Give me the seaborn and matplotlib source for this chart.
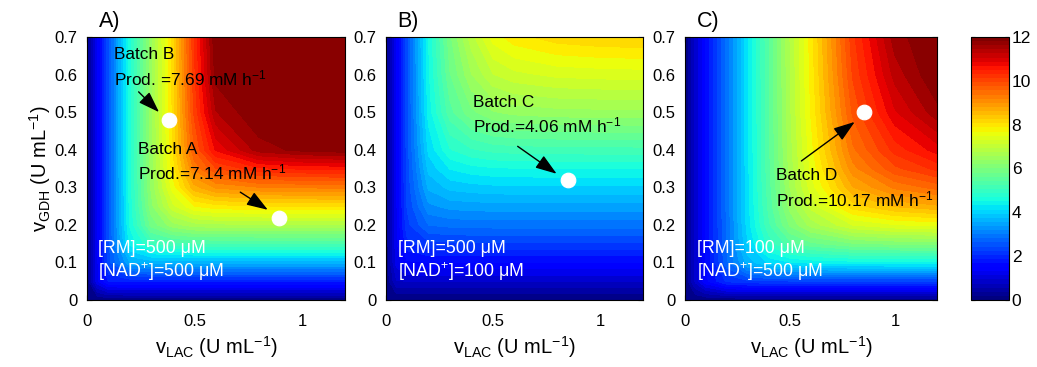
import numpy as np
import matplotlib
matplotlib.use("Agg")
import matplotlib.pyplot as plt
from matplotlib.cm import ScalarMappable
from matplotlib.colors import Normalize
import seaborn as sns

# ---------------- data ----------------
x_nodes = [0, 0.05, 0.1, 0.2, 0.3, 0.4, 0.5, 0.6, 0.8, 1.0, 1.2]          # v_LAC
y_nodes = [0, 0.05, 0.1, 0.15, 0.2, 0.25, 0.3, 0.35, 0.4, 0.5, 0.6, 0.7]  # v_GDH

prod_A = [
    [0, 0, 0, 0, 0, 0, 0, 0, 0, 0, 0],
    [0, 1.18, 1.75, 1.8, 1.8, 1.8, 1.8, 1.8, 1.8, 1.8, 1.8],
    [0, 1.2, 2.37, 3.48, 3.58, 3.6, 3.6, 3.6, 3.6, 3.6, 3.6],
    [0, 1.2, 2.4, 4.31, 4.99, 5.14, 5.19, 5.2, 5.2, 5.2, 5.2],
    [0, 1.2, 2.4, 4.52, 5.83, 6.40, 6.62, 6.67, 6.7, 6.7, 6.7],
    [0, 1.2, 2.4, 4.57, 6.16, 7.17, 7.74, 7.90, 7.97, 8.0, 8.0],
    [0, 1.2, 2.4, 4.59, 6.29, 7.62, 8.65, 9.03, 9.23, 9.27, 9.3],
    [0, 1.2, 2.4, 4.6, 6.35, 7.86, 9.30, 9.97, 10.43, 10.53, 10.57],
    [0, 1.2, 2.4, 4.6, 6.37, 7.98, 9.74, 10.78, 11.62, 11.83, 11.91],
    [0, 1.2, 2.4, 4.6, 6.4, 8.05, 10.05, 11.48, 13.0, 13.5, 13.75],
    [0, 1.2, 2.4, 4.6, 6.4, 8.08, 10.18, 11.85, 14.0, 14.96, 15.4],
    [0, 1.2, 2.4, 4.6, 6.4, 8.1, 10.24, 12.0, 14.6, 16.0, 16.8],
]
prod_B = [
    [0, 0, 0, 0, 0, 0, 0, 0, 0, 0, 0],
    [0, 0.72, 0.75, 0.75, 0.75, 0.75, 0.75, 0.75, 0.75, 0.75, 0.75],
    [0, 1.10, 1.45, 1.5, 1.5, 1.5, 1.5, 1.5, 1.5, 1.5, 1.5],
    [0, 1.17, 1.92, 2.17, 2.19, 2.2, 2.2, 2.2, 2.2, 2.2, 2.2],
    [0, 1.19, 2.17, 2.75, 2.82, 2.84, 2.85, 2.85, 2.85, 2.85, 2.85],
    [0, 1.19, 2.27, 3.18, 3.34, 3.37, 3.39, 3.4, 3.4, 3.4, 3.4],
    [0, 1.2, 2.32, 3.55, 3.82, 3.89, 3.93, 3.94, 3.95, 3.95, 3.95],
    [0, 1.2, 2.35, 3.83, 4.26, 4.40, 4.46, 4.48, 4.5, 4.5, 4.5],
    [0, 1.2, 2.37, 4.07, 4.72, 4.96, 5.07, 5.11, 5.13, 5.14, 5.15],
    [0, 1.2, 2.39, 4.35, 5.40, 5.93, 6.22, 6.33, 6.40, 6.42, 6.44],
    [0, 1.2, 2.39, 4.44, 5.73, 6.48, 6.98, 7.17, 7.31, 7.35, 7.37],
    [0, 1.2, 2.4, 4.50, 5.93, 6.89, 7.60, 7.90, 8.13, 8.21, 8.24],
]
prod_C = [
    [0, 0, 0, 0, 0, 0, 0, 0, 0, 0, 0],
    [0, 0.8, 1.43, 2.03, 2.16, 2.19, 2.2, 2.2, 2.2, 2.2, 2.2],
    [0, 0.8, 1.49, 2.69, 3.61, 4.04, 4.22, 4.30, 4.37, 4.39, 4.4],
    [0, 0.8, 1.5, 2.77, 3.99, 4.84, 5.38, 5.67, 5.95, 6.03, 6.05],
    [0, 0.8, 1.5, 2.79, 4.11, 5.19, 6.03, 6.59, 7.25, 7.47, 7.56],
    [0, 0.8, 1.5, 2.8, 4.15, 5.32, 6.33, 7.08, 8.13, 8.52, 8.69],
    [0, 0.8, 1.5, 2.8, 4.17, 5.38, 6.49, 7.36, 8.73, 9.30, 9.59],
    [0, 0.8, 1.5, 2.8, 4.18, 5.42, 6.58, 7.54, 9.15, 9.93, 10.32],
    [0, 0.8, 1.5, 2.8, 4.19, 5.44, 6.63, 7.64, 9.44, 10.35, 10.86],
    [0, 0.8, 1.5, 2.8, 4.2, 5.46, 6.69, 7.76, 9.80, 10.96, 11.66],
    [0, 0.8, 1.5, 2.8, 4.2, 5.47, 6.72, 7.82, 10.03, 11.35, 12.24],
    [0, 0.8, 1.5, 2.8, 4.2, 5.48, 6.74, 7.86, 10.17, 11.64, 12.63],
]

panel_labels = ["A)", "B)", "C)"]
rm_labels = ["500", "500", "100"]
nad_labels = ["500", "100", "500"]

# batches: panel index, name, v_LAC, v_GDH, productivity
batch_panel = [0, 0, 1, 2]
batch_names = ["Batch B", "Batch A", "Batch C", "Batch D"]
batch_vlac = [0.38, 0.894, 0.849, 0.852]
batch_vgdh = [0.48, 0.218, 0.319, 0.50]
batch_prod = ["7.69", "7.14", "4.06", "10.17"]

x_ticks = [0, 0.5, 1]
x_ticklabels = ["0", "0.5", "1"]
y_ticks = [0, 0.1, 0.2, 0.3, 0.4, 0.5, 0.6, 0.7]
y_ticklabels = ["0", "0.1", "0.2", "0.3", "0.4", "0.5", "0.6", "0.7"]
cbar_ticks = [0, 2, 4, 6, 8, 10, 12]

# ---------------- style ----------------
sns.set_theme(style="white")
plt.rcParams["font.family"] = ["Liberation Sans", "DejaVu Sans"]
plt.rcParams["mathtext.fontset"] = "custom"
plt.rcParams["mathtext.rm"] = "Liberation Sans"
plt.rcParams["mathtext.it"] = "Liberation Sans:italic"
plt.rcParams["mathtext.bf"] = "Liberation Sans:bold"
plt.rcParams["axes.edgecolor"] = "black"
plt.rcParams["axes.linewidth"] = 0.8

cmap = matplotlib.colormaps["jet"]
levels = np.linspace(0, 12, 49)

fig = plt.figure(figsize=(10.37, 3.67), dpi=100)
positions = [
    [0.0839, 0.1826, 0.2488, 0.7166],
    [0.3722, 0.1826, 0.2478, 0.7166],
    [0.6606, 0.1826, 0.2430, 0.7166],
]
data = [prod_A, prod_B, prod_C]
X, Y = np.meshgrid(x_nodes, y_nodes)

# text / arrow placement (per batch): label anchor, arrow tail, arrow tip
label_xy = [(0.125, 0.618), (0.236, 0.366), (0.405, 0.492), (0.432, 0.296)]
arrow_tail = [(0.24, 0.554), (0.713, 0.287), (0.615, 0.409), (0.554, 0.37)]
arrow_tip = [(0.335, 0.50), (0.841, 0.24), (0.797, 0.336), (0.808, 0.474)]
prod_sep = ["Prod. =", "Prod.=", "Prod.=", "Prod.="]

axes = []
for i, pos in enumerate(positions):
    ax = fig.add_axes(pos)
    axes.append(ax)
    Z = np.clip(np.array(data[i], dtype=float), 0, 12)
    cs = ax.contourf(X, Y, Z, levels=levels, cmap=cmap, vmin=0, vmax=12)
    cs.set_edgecolor("face")
    cs.set_linewidth(0.4)
    ax.set_xlim(0, 1.2)
    ax.set_ylim(0, 0.7)
    ax.set_xticks(x_ticks)
    ax.set_xticklabels(x_ticklabels)
    ax.set_yticks(y_ticks)
    ax.set_yticklabels(y_ticklabels)
    ax.tick_params(direction="in", top=True, right=True, bottom=True, left=True,
                   length=3.5, width=0.8, labelsize=12, colors="black")
    ax.tick_params(axis="x", pad=10)
    ax.tick_params(axis="y", pad=7)
    for sp in ax.spines.values():
        sp.set_visible(True)
        sp.set_color("black")
        sp.set_linewidth(0.8)
    ax.set_xlabel(r"v$_{\mathrm{LAC}}$ (U mL$^{\mathrm{-1}}$)", fontsize=14.5,
                  color="black", labelpad=4)
    ax.text(0.045, 1.06, panel_labels[i], transform=ax.transAxes,
            fontsize=15.5, ha="left", va="center", color="black")
    ax.text(0.05 if i == 0 else 0.056, 0.138, "[RM]=" + rm_labels[i] + " μM",
            color="white", fontsize=12.8, ha="left", va="center")
    ax.text(0.05 if i == 0 else 0.056, 0.075,
            r"[NAD$^{+}$]=" + nad_labels[i] + " μM",
            color="white", fontsize=12.8, ha="left", va="center")

axes[0].set_ylabel(r"v$_{\mathrm{GDH}}$ (U mL$^{\mathrm{-1}}$)", fontsize=14.5,
                   color="black", labelpad=1)

for k in range(len(batch_names)):
    ax = axes[batch_panel[k]]
    sns.scatterplot(x=[batch_vlac[k]], y=[batch_vgdh[k]], ax=ax, color="white",
                    edgecolor="white", s=110, zorder=6, legend=False)
    ax.annotate("", xy=arrow_tip[k], xytext=arrow_tail[k],
                arrowprops=dict(arrowstyle="-|>,head_length=1.3,head_width=0.45",
                                mutation_scale=10, color="black", lw=1.0,
                                shrinkA=0, shrinkB=0), zorder=7)
    ax.text(label_xy[k][0], label_xy[k][1],
            batch_names[k] + "\n" + prod_sep[k] + batch_prod[k] + r" mM h$^{\mathrm{-1}}$",
            fontsize=12.4, ha="left", va="center", color="black", linespacing=1.35,
            zorder=8)

cax = fig.add_axes([0.9363, 0.1826, 0.0366, 0.7166])
sm = ScalarMappable(norm=Normalize(0, 12), cmap=cmap.resampled(64))
cb = fig.colorbar(sm, cax=cax, ticks=cbar_ticks)
cb.ax.tick_params(direction="in", left=True, right=True, length=3, width=0.8,
                  labelsize=12.5, colors="black", pad=2)
cb.outline.set_edgecolor("black")
cb.outline.set_linewidth(0.8)

fig.savefig("out.png", dpi=100)
